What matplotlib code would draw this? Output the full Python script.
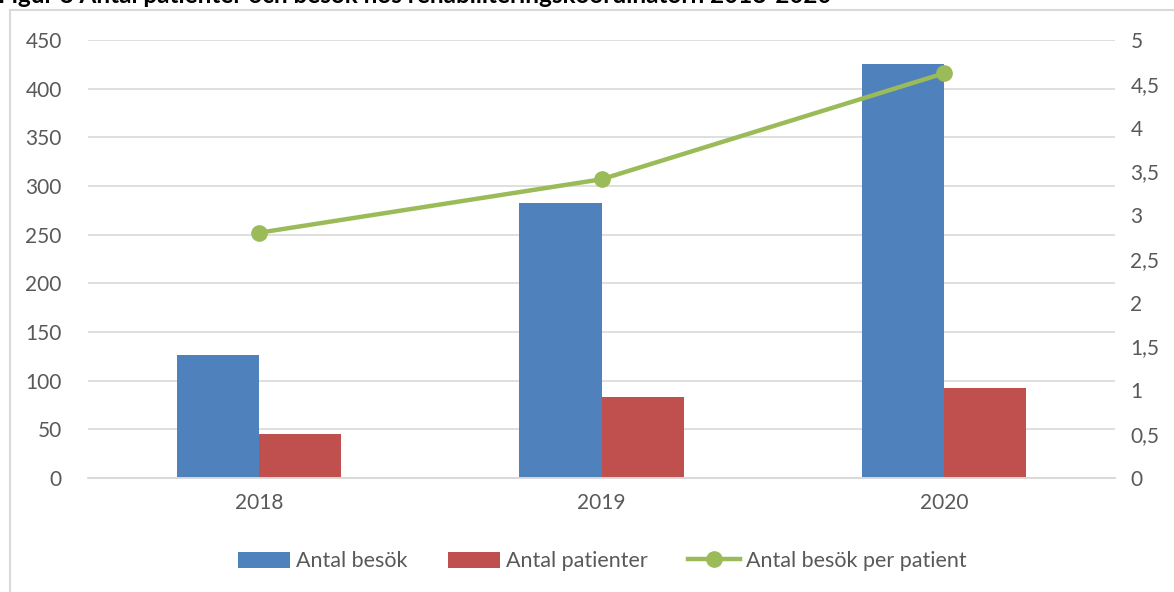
import matplotlib.pyplot as plt
from matplotlib.patches import Rectangle
import numpy as np

plt.rcParams['font.family'] = ['Lato', 'DejaVu Sans']

years = ['2018', '2019', '2020']
besok = [126, 283, 425]
patienter = [45, 83, 92]
per_patient = [2.8, 3.41, 4.62]

grey = '#595959'
grid = '#d9d9d9'

fig = plt.figure(figsize=(11.74, 5.92), dpi=100)
ax = fig.add_axes([0.075, 0.1926, 0.8748, 0.7398])
ax2 = ax.twinx()

x = np.arange(len(years))
w = 0.24
ax.bar(x - w / 2, besok, w, color='#4f81bd', label='Antal besök', zorder=2)
ax.bar(x + w / 2, patienter, w, color='#c0504d', label='Antal patienter', zorder=2)
ax2.plot(x, per_patient, color='#9bbb59', lw=3.2, marker='o', ms=11,
         label='Antal besök per patient', zorder=3)

ax.set_xlim(-0.5, 2.5)
ax.set_ylim(0, 450)
ax.set_yticks(range(0, 451, 50))
ax2.set_ylim(0, 5)
ax2.set_yticks(np.arange(0, 5.01, 0.5))
ax2.set_yticklabels([('%g' % v).replace('.', ',') for v in np.arange(0, 5.01, 0.5)])
ax.set_xticks(x)
ax.set_xticklabels(years)

ax.grid(axis='y', color=grid, lw=1.2, zorder=0)
ax.set_axisbelow(True)
for a in (ax, ax2):
    for s in ('top', 'left', 'right'):
        a.spines[s].set_visible(False)
    a.spines['bottom'].set_color(grid)
    a.spines['bottom'].set_linewidth(1.2)
    a.tick_params(length=0, labelsize=15, labelcolor=grey)
ax.tick_params(axis='y', pad=19)
ax2.tick_params(axis='y', pad=11)
ax.tick_params(axis='x', pad=11)

h1, l1 = ax.get_legend_handles_labels()
h2, l2 = ax2.get_legend_handles_labels()
fig.legend(h1 + h2, l1 + l2, loc='center', bbox_to_anchor=(0.513, 0.052), ncol=3,
           frameon=False, fontsize=15.5, labelcolor=grey, handlelength=2.4,
           handleheight=0.8, handletextpad=0.28, columnspacing=1.9)

# chart frame and clipped caption
fig.patches.append(Rectangle((10 / 1174, -0.1), 1.2, 1 - 10 / 592 + 0.1,
                             transform=fig.transFigure, fill=False,
                             ec=grid, lw=1.5))
fig.text(-0.002, 1.008, 'Figur 8 Antal patienter och besök hos rehabiliteringskoordinatorn 2018-2020',
         fontsize=17.5, fontweight='bold', color='black', va='center', ha='left')

fig.savefig('out.png', dpi=100)
